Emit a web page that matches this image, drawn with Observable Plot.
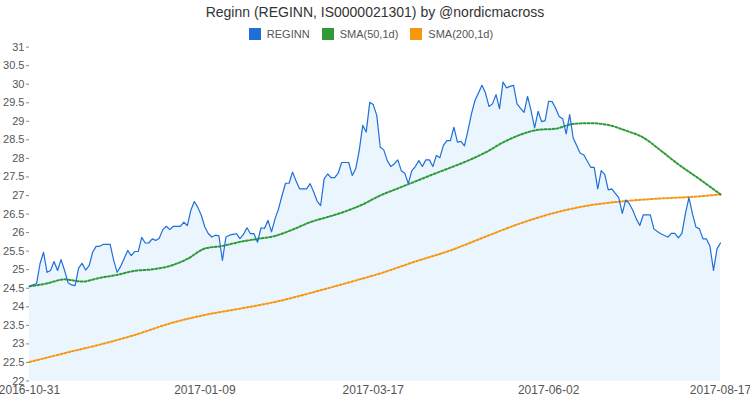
<!DOCTYPE html>
<html><head><meta charset="utf-8">
<script src="https://cdn.jsdelivr.net/npm/d3@7"></script>
<script src="https://cdn.jsdelivr.net/npm/@observablehq/plot@0.6"></script>
<style>
body{margin:0;background:#fff;font-family:"Liberation Sans",Arial,sans-serif;}
#wrap{width:750px;height:400px;position:relative;overflow:hidden;}
#title{position:absolute;left:0;top:3px;width:750px;text-align:center;font-size:14px;color:#333;line-height:18px;}
#legend{position:absolute;left:-4px;top:27px;width:750px;display:flex;justify-content:center;align-items:center;font-size:11px;color:#555;line-height:14px;}
.item{display:flex;align-items:center;margin:0 6px;}
.sw{width:12px;height:12px;margin-right:6px;}
#chart{position:absolute;left:0;top:40px;}
</style></head>
<body><div id="wrap"><div id="title"></div><div id="legend"></div><div id="chart"></div></div>
<script>
const title = "Reginn (REGINN, IS0000021301) by @nordicmacross";
const seriesNames = ["REGINN", "SMA(50,1d)", "SMA(200,1d)"];
const seriesColors = ["#1f6fd9", "#2e9b38", "#f7960f"];

// x axis: trading-day index, labelled with dates
const tickIndex = [0, 50, 98, 148, 197];
const tickLabels = ["2016-10-31", "2017-01-09", "2017-03-17", "2017-06-02", "2017-08-17"];
const yTicks = [22,22.5,23,23.5,24,24.5,25,25.5,26,26.5,27,27.5,28,28.5,29,29.5,30,30.5,31];

// REGINN close, one value per trading day (index 0..197)
const reginn = [
24.56,24.59,24.62,25.16,25.47,24.93,24.98,25.22,24.98,25.27,
24.98,24.65,24.59,24.57,25.04,25.17,24.99,25.11,25.47,25.63,
25.63,25.68,25.68,25.68,25.25,24.93,25.09,25.30,25.52,25.38,
25.49,25.49,25.87,25.72,25.72,25.83,25.79,25.85,26.08,26.17,
26.08,26.17,26.17,26.17,26.28,26.19,26.60,26.84,26.68,26.46,
26.15,25.97,25.88,25.93,25.91,25.25,25.88,25.93,25.95,25.97,
25.84,25.95,26.13,25.97,25.97,25.74,26.13,26.11,26.33,26.02,
26.37,26.64,27.00,27.33,27.33,27.63,27.39,27.18,27.18,27.18,
27.32,27.10,26.85,26.73,27.45,27.58,27.48,27.48,27.60,27.89,
27.89,27.89,27.54,27.72,28.21,28.89,28.71,29.51,29.45,29.16,
28.30,28.23,27.94,27.78,27.85,27.96,27.67,27.60,27.32,27.67,
27.78,27.94,27.78,27.96,27.96,27.78,28.08,28.02,28.35,28.48,
28.48,28.84,28.44,28.46,28.34,28.75,29.20,29.56,29.76,29.97,
29.76,29.40,29.47,29.72,29.34,30.06,29.90,29.94,29.97,29.47,
29.35,29.24,29.67,29.29,28.82,29.27,28.99,29.02,29.54,29.53,
29.35,29.13,29.07,28.66,29.18,28.55,28.35,28.14,28.10,27.93,
27.76,27.76,27.18,27.67,27.57,27.15,27.18,27.06,26.94,26.52,
26.88,26.78,26.60,26.37,26.19,26.48,26.48,26.48,26.10,26.03,
25.97,25.92,25.88,25.98,25.98,25.86,25.98,26.51,26.94,26.51,
26.15,26.10,25.83,25.83,25.63,24.98,25.56,25.72
];

// SMA(50,1d), read at these trading-day indexes
const sma50Day = [0,5,10,15,20,25,30,35,40,45,50,55,60,65,70,75,80,85,90,95,100,105,110,115,120,125,130,135,140,145,150,155,160,165,170,175,180,185,190,197];
const sma50Val = [24.55,24.63,24.74,24.68,24.78,24.86,24.97,25.01,25.10,25.29,25.57,25.64,25.75,25.83,25.91,26.08,26.28,26.42,26.57,26.76,27.00,27.19,27.38,27.57,27.75,27.94,28.16,28.43,28.64,28.77,28.80,28.93,28.95,28.90,28.75,28.56,28.21,27.84,27.51,27.03];

// SMA(200,1d)
const sma200Day = [0,10,20,30,40,50,60,70,80,90,100,110,120,130,140,150,160,170,180,190,197];
const sma200Val = [22.51,22.75,22.98,23.24,23.55,23.78,23.95,24.13,24.37,24.63,24.90,25.22,25.52,25.89,26.25,26.54,26.74,26.85,26.92,26.97,27.03];

const yBase = 22;

document.getElementById("title").textContent = title;
const leg = document.getElementById("legend");
seriesNames.forEach((n, i) => {
  const it = document.createElement("div"); it.className = "item";
  const sw = document.createElement("div"); sw.className = "sw"; sw.style.background = seriesColors[i];
  const tx = document.createElement("span"); tx.textContent = n;
  it.appendChild(sw); it.appendChild(tx); leg.appendChild(it);
});

const main = reginn.map((v, i) => ({d: i, v}));
const s50 = sma50Day.map((d, i) => ({d, v: sma50Val[i]}));
const s200 = sma200Day.map((d, i) => ({d, v: sma200Val[i]}));

const chart = Plot.plot({
  width: 750,
  height: 360,
  marginTop: 6.6,
  marginBottom: 19.5,
  marginLeft: 29,
  marginRight: 30,
  style: {overflow: "visible", background: "transparent", fontFamily: "Liberation Sans, Arial, sans-serif"},
  x: {domain: [0, 197], label: null},
  y: {domain: [22, 31], label: null},
  marks: [
    Plot.areaY(main, {x: "d", y1: yBase, y2: "v", fill: "#ebf5fd"}),
    Plot.line(s200, {x: "d", y: "v", stroke: seriesColors[2], strokeWidth: 2, strokeDasharray: "2,2", curve: "monotone-x"}),
    Plot.line(s50, {x: "d", y: "v", stroke: seriesColors[1], strokeWidth: 2, strokeDasharray: "2,2", curve: "monotone-x"}),
    Plot.line(main, {x: "d", y: "v", stroke: seriesColors[0], strokeWidth: 1.2}),
    Plot.axisY({ticks: yTicks, tickFormat: d => String(d), tickSize: 3, tickPadding: 2, fontSize: 11, color: "#555", stroke: "#888", label: null}),
    Plot.axisX({ticks: tickIndex, tickFormat: d => tickLabels[tickIndex.indexOf(d)], tickSize: 0, tickPadding: 4, fontSize: 12, color: "#555", label: null})
  ]
});
document.getElementById("chart").appendChild(chart);
</script>
</body></html>
